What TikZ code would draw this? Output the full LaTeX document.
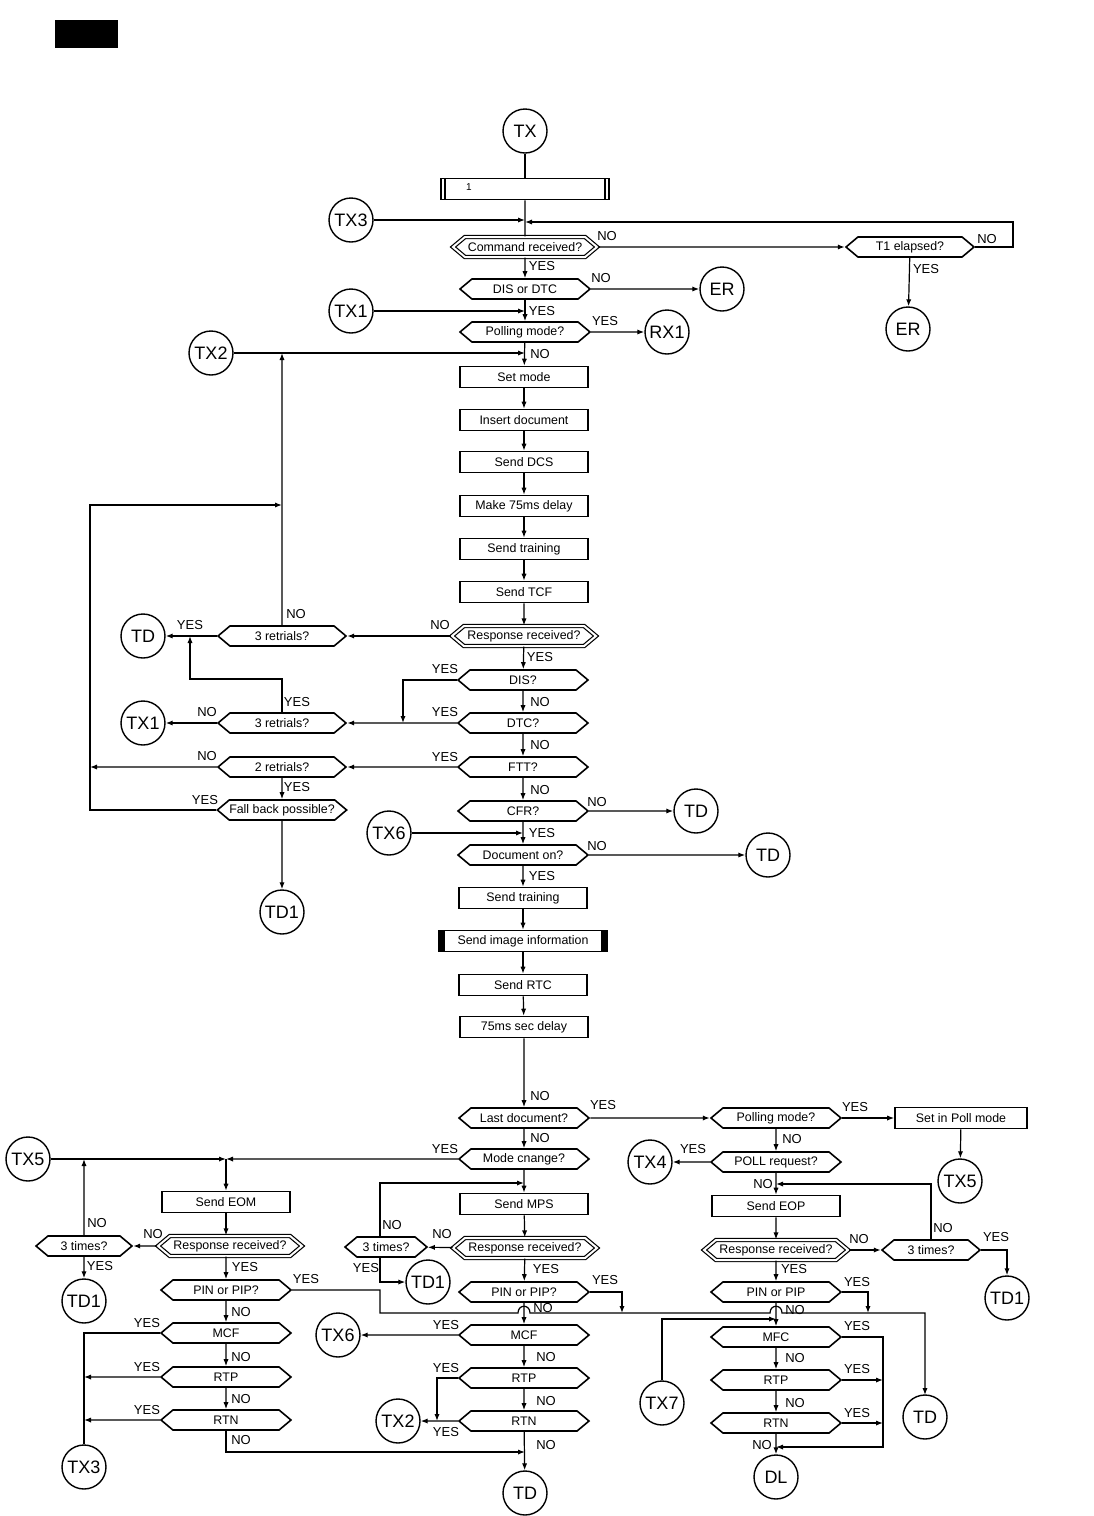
\documentclass[tikz,border=0pt]{standalone}
\usepackage{fontspec}
\setmainfont{Liberation Sans}
\usetikzlibrary{arrows.meta, shapes.symbols}

\begin{document}
\begin{tikzpicture}[
    x=0.5pt, y=-0.5pt,
    every node/.style={font=\fontsize{6.2}{6.2}\selectfont},
    arr/.style={-{Latex[length=3.5pt, width=2.6pt]}, line width=0.6pt},
    ln/.style={line width=0.6pt},
    lab/.style={font=\fontsize{6.5}{6.5}\selectfont, inner sep=0pt},
    conn/.style={circle, draw, line width=0.7pt, minimum size=22pt, inner sep=0pt,
        font=\fontsize{9}{9}\selectfont},
    proc/.style={rectangle, draw, line width=0.8pt, minimum width=64pt,
        minimum height=10.5pt, inner sep=0pt},
    dec/.style={signal, signal to=west and east, signal pointer angle=80, draw,
        line width=0.8pt, minimum width=65pt, minimum height=10pt, inner sep=0pt},
    recv/.style={dec, minimum width=72pt, line width=0.6pt, double, double distance=1pt},
    predef/.style={proc, minimum width=84pt, path picture={
        \draw[line width=0.6pt] ([xshift=2pt]path picture bounding box.north west)
            -- ([xshift=2pt]path picture bounding box.south west);
        \draw[line width=0.6pt] ([xshift=-2pt]path picture bounding box.north east)
            -- ([xshift=-2pt]path picture bounding box.south east);}},
    imgbox/.style={proc, minimum width=84pt, path picture={
        \fill ([xshift=3pt]path picture bounding box.north west)
            rectangle (path picture bounding box.south west);
        \fill ([xshift=-3pt]path picture bounding box.north east)
            rectangle (path picture bounding box.south east);}},
]
\useasboundingbox (0,0) rectangle (1093,1516);
\fill (55,20) rectangle (118,48);

% ============================================================ start
\node[conn] (tx) at (525,131) {TX};
\node[predef] (init) at (525,189) {};
\node[lab, font=\fontsize{5}{5}\selectfont] (initone) at (469,187) {1};
\node[conn] (tx3a) at (351,220) {TX3};
\node[recv] (cmd) at (525,247) {Command received?};
\node[dec, minimum width=64pt] (t1) at (910,247) {T1 elapsed?};
\node[conn] (er1) at (908,329) {ER};
\node[dec] (dis) at (525,289) {DIS or DTC};
\node[conn] (er2) at (722,289) {ER};
\node[conn] (tx1a) at (351,311) {TX1};
\node[dec] (poll1) at (525,332) {Polling mode?};
\node[conn] (rx1) at (667,332) {RX1};
\node[conn] (tx2a) at (211,353) {TX2};

\draw[ln] (tx) -- (init);
\draw[ln] (init) -- (cmd);
\draw[arr] (tx3a) -- (tx3a -| cmd);
\draw[arr] (cmd) -- (t1);
\draw[arr] (t1.east) -- (1013,247) -- (1013,222) -- (cmd |- 0,222);
\draw[arr] (t1) -- (er1);
\draw[arr] (cmd) -- (dis);
\draw[arr] (dis) -- (er2);
\draw[arr] (tx1a) -- (tx1a -| dis);
\draw[arr] (dis) -- (poll1);
\draw[arr] (poll1) -- (rx1);
\draw[arr] (tx2a) -- (tx2a -| poll1);

\node[lab] (ncmd) at (607,236) {NO};
\node[lab] (nt1) at (987,239) {NO};
\node[lab] (yt1) at (926,269) {YES};
\node[lab] (ycmd) at (542,266) {YES};
\node[lab] (ndis) at (601,278) {NO};
\node[lab] (ydis) at (542,311) {YES};
\node[lab] (ypoll) at (605,321) {YES};
\node[lab] (npoll) at (540,354) {NO};

% ============================================================ training
\node[proc] (setm) at (524,377) {Set mode};
\node[proc] (ins) at (524,420) {Insert document};
\node[proc] (dcs) at (524,462) {Send DCS};
\node[proc] (dly1) at (524,506) {Make 75ms delay};
\node[proc] (trn1) at (524,549) {Send training};
\node[proc] (tcf) at (524,592) {Send TCF};
\node[recv] (resp1) at (524,636) {Response received?};
\node[dec, minimum width=64pt] (ret1) at (282,636) {3 retrials?};
\node[conn] (td1) at (143,636) {TD};
\node[dec] (disq) at (523,680) {DIS?};
\node[dec] (dtc) at (523,723) {DTC?};
\node[dec, minimum width=64pt] (ret2) at (282,723) {3 retrials?};
\node[conn] (tx1b) at (143,723) {TX1};
\node[dec] (ftt) at (523,767) {FTT?};
\node[dec, minimum width=64pt] (ret3) at (282,767) {2 retrials?};
\node[dec, minimum width=64pt] (fb) at (282,810) {Fall back possible?};
\node[conn] (td1b) at (282,912) {TD1};

\draw[arr] (poll1) -- (setm);
\foreach \a/\b in {setm/ins, ins/dcs, dcs/dly1, dly1/trn1, trn1/tcf, tcf/resp1}{
    \draw[arr] (\a) -- (\b);
}
\draw[arr] (resp1) -- (ret1);
\draw[arr] (ret1) -- (td1);
\draw[arr] (ret1) -- (ret1 |- tx2a);
\draw[arr] (resp1) -- (disq);
\draw[arr] (disq.west) -| (403,723);
\draw[arr] (disq) -- (dtc);
\draw[arr] (dtc) -- (ret2);
\draw[arr] (ret2) -- (tx1b);
\draw[arr] (ret2.north) -- (ret2.north |- 0,679) -| (190,636);
\draw[arr] (dtc) -- (ftt);
\draw[arr] (ftt) -- (ret3);
\draw[arr] (ret3) -- (90,767);
\draw[arr] (ret3) -- (fb);
\draw[arr] (fb.west) -- (90,810) -- (90,505) -- (ret1 |- 0,505);
\draw[arr] (fb) -- (td1b);

\node[lab] (nret1) at (296,614) {NO};
\node[lab] (yret1) at (190,625) {YES};
\node[lab] (nresp1) at (440,625) {NO};
\node[lab] (yresp1) at (540,657) {YES};
\node[lab] (ydisq) at (445,669) {YES};
\node[lab] (ndisq) at (540,702) {NO};
\node[lab] (yret2) at (297,702) {YES};
\node[lab] (nret2) at (207,712) {NO};
\node[lab] (ydtc) at (445,712) {YES};
\node[lab] (ndtc) at (540,745) {NO};
\node[lab] (nret3) at (207,756) {NO};
\node[lab] (yftt) at (445,757) {YES};
\node[lab] (yret3) at (297,787) {YES};
\node[lab] (nftt) at (540,790) {NO};
\node[lab] (yfb) at (205,800) {YES};

% ============================================================ image
\node[dec] (cfr) at (523,811) {CFR?};
\node[conn] (tdb) at (696,811) {TD};
\node[conn] (tx6a) at (389,833) {TX6};
\node[dec] (doc) at (523,855) {Document on?};
\node[conn] (tdc) at (768,855) {TD};
\node[proc] (trn2) at (523,898) {Send training};
\node[imgbox] (img) at (523,941) {Send image information};
\node[proc] (rtc) at (523,985) {Send RTC};
\node[proc] (dly2) at (524,1027) {75ms sec delay};

\draw[arr] (ftt) -- (cfr);
\draw[arr] (cfr) -- (tdb);
\draw[arr] (tx6a) -- (tx6a -| cfr);
\draw[arr] (cfr) -- (doc);
\draw[arr] (doc) -- (tdc);
\foreach \a/\b in {doc/trn2, trn2/img, img/rtc, rtc/dly2}{
    \draw[arr] (\a) -- (\b);
}

\node[lab] (ncfr) at (597,802) {NO};
\node[lab] (ycfr) at (542,833) {YES};
\node[lab] (ndoc) at (597,846) {NO};
\node[lab] (ydoc) at (542,876) {YES};

% ============================================================ end of page
\node[dec] (last) at (524,1118) {Last document?};
\node[dec] (mode) at (524,1159) {Mode cnange?};
\node[conn] (tx5a) at (28,1159) {TX5};
\node[proc] (mps) at (524,1204) {Send MPS};
\node[recv] (resp2) at (525,1248) {Response received?};
\node[dec, minimum width=41pt] (tm2) at (386,1247) {3 times?};
\node[conn] (td1d) at (428,1282) {TD1};
\node[dec] (pin2) at (524,1292) {PIN or PIP?};
\node[dec] (mcf2) at (524,1335) {MCF};
\node[conn] (tx6b) at (338,1335) {TX6};
\node[dec] (rtp2) at (524,1378) {RTP};
\node[dec] (rtn2) at (524,1421) {RTN};
\node[conn] (tx2b) at (398,1421) {TX2};
\node[conn] (tde) at (525,1493) {TD};

\draw[arr] (dly2) -- (last);
\draw[arr] (last) -- (mode);
\draw[arr] (mode) -- (mps);
\draw[arr] ([xshift=-3pt]tm2.north) |- (mps |- 0,1183);
\draw[arr] (mps) -- (resp2);
\draw[arr] (resp2) -- (tm2);
\draw[arr] ([xshift=-3pt]tm2.south) |- (td1d);
\draw[arr] (resp2) -- (pin2);
\draw[arr] (pin2.east) -| (622,1313);
\draw[arr] (pin2) -- (mcf2);
\draw[arr] (mcf2) -- (tx6b);
\draw[arr] (mcf2) -- (rtp2);
\draw[arr] (rtp2.west) -| (437,1421);
\draw[arr] (rtp2) -- (rtn2);
\draw[arr] (rtn2) -- (tx2b);
\draw[arr] (rtn2) -- (tde);

\node[lab] (nlast0) at (540,1096) {NO};
\node[lab] (ylast) at (603,1105) {YES};
\node[lab] (nlast) at (540,1138) {NO};
\node[lab] (ymode) at (445,1149) {YES};
\node[lab] (ntm2) at (392,1225) {NO};
\node[lab] (nresp2) at (442,1234) {NO};
\node[lab] (ytm2) at (366,1268) {YES};
\node[lab] (yresp2) at (546,1269) {YES};
\node[lab] (ypin2) at (605,1280) {YES};
\node[lab] (npin2) at (543,1308) {NO};
\node[lab] (ymcf2) at (446,1325) {YES};
\node[lab] (nmcf2) at (546,1357) {NO};
\node[lab] (yrtp2) at (446,1368) {YES};
\node[lab] (nrtp2) at (546,1401) {NO};
\node[lab] (yrtn2) at (446,1432) {YES};
\node[lab] (nrtn2) at (546,1445) {NO};

% ============================================================ left column
\node[proc] (eom) at (226,1202) {Send EOM};
\node[recv] (resp4) at (230,1246) {Response received?};
\node[dec, minimum width=48pt] (tm1) at (84,1246) {3 times?};
\node[conn] (td1c) at (84,1301) {TD1};
\node[dec] (pin1) at (226,1290) {PIN or PIP?};
\node[dec] (mcf1) at (226,1333) {MCF};
\node[dec] (rtp1) at (226,1377) {RTP};
\node[dec] (rtn1) at (226,1420) {RTN};
\node[conn] (tx3b) at (84,1467) {TX3};

\draw[arr] (mode) -- (mode -| eom);
\draw[arr] (tx5a) -- (tx5a -| eom);
\draw[arr] (eom |- mode) -- (eom);
\draw[arr] (eom) -- (eom |- resp4.north);
\draw[arr] (resp4) -- (tm1);
\draw[arr] (tm1) -- (tm1 |- tx5a);
\draw[arr] (tm1) -- (td1c);
\draw[arr] (eom |- resp4.south) -- (pin1);
\draw[arr] (pin1) -- (mcf1);
\draw[arr] (mcf1) -- (rtp1);
\draw[arr] (rtp1) -- (rtn1);
\draw[ln] (mcf1.west) -| (tx3b);
\draw[arr] (rtp1) -- (rtp1 -| tx3b);
\draw[arr] (rtn1) -- (rtn1 -| tx3b);
\draw[arr] (rtn1) |- (tde |- 0,1452);
\draw[arr] (pin1.east) -| (380,1313) -- (518,1313)
    .. controls (518,1304) and (530,1304) .. (530,1313) -- (770,1313)
    .. controls (770,1304) and (782,1304) .. (782,1313) -| (925,1395);

\node[lab] (ntm1) at (97,1223) {NO};
\node[lab] (nresp4) at (153,1234) {NO};
\node[lab] (ytm1) at (100,1266) {YES};
\node[lab] (yresp4) at (245,1267) {YES};
\node[lab] (ypin1) at (306,1279) {YES};
\node[lab] (npin1) at (241,1312) {NO};
\node[lab] (ymcf1) at (147,1323) {YES};
\node[lab] (nmcf1) at (241,1357) {NO};
\node[lab] (yrtp1) at (147,1367) {YES};
\node[lab] (nrtp1) at (241,1399) {NO};
\node[lab] (yrtn1) at (147,1410) {YES};
\node[lab] (nrtn1) at (241,1440) {NO};

% ============================================================ right column
\node[dec] (poll2) at (776,1118) {Polling mode?};
\node[proc, minimum width=66pt] (setp) at (961,1118) {Set in Poll mode};
\node[conn] (tx5b) at (960,1181) {TX5};
\node[dec] (pollr) at (776,1162) {POLL request?};
\node[conn] (tx4) at (650,1162) {TX4};
\node[proc] (eop) at (776,1206) {Send EOP};
\node[recv] (resp3) at (776,1250) {Response received?};
\node[dec, minimum width=49pt] (tm3) at (931,1250) {3 times?};
\node[conn] (td1e) at (1007,1298) {TD1};
\node[dec] (pin3) at (776,1292) {PIN or PIP};
\node[dec] (mfc) at (776,1337) {MFC};
\node[dec] (rtp3) at (776,1380) {RTP};
\node[dec] (rtn3) at (776,1423) {RTN};
\node[conn] (dl) at (776,1477) {DL};
\node[conn] (tx7) at (662,1403) {TX7};
\node[conn] (tdr) at (925,1417) {TD};

\draw[arr] (last) -- (poll2);
\draw[arr] (poll2) -- (setp);
\draw[arr] (setp) -- (tx5b);
\draw[arr] (poll2) -- (pollr);
\draw[arr] (pollr) -- (tx4);
\draw[arr] (pollr) -- (eop);
\draw[arr] (tm3.north) |- (eop |- 0,1184);
\draw[arr] (eop) -- (resp3);
\draw[arr] (resp3) -- (tm3);
\draw[arr] (tm3.east) -| (td1e);
\draw[arr] (resp3) -- (pin3);
\draw[arr] (pin3.east) -| (868,1313);
\draw[arr] (pin3) -- (mfc);
\draw[arr] (tx7) |- (mfc |- 0,1319);
\draw[arr] (mfc) -- (rtp3);
\draw[arr] (rtp3) -- (rtn3);
\draw[arr] (rtn3) -- (dl);
\draw[arr] (mfc.east) -- (883,1337) -- (883,1447) -- (dl |- 0,1447);
\draw[arr] (rtp3) -- (rtp3 -| 883,0);
\draw[arr] (rtn3) -- (rtn3 -| 883,0);

\node[lab] (ypoll2) at (855,1107) {YES};
\node[lab] (npoll2) at (792,1139) {NO};
\node[lab] (ypollr) at (693,1149) {YES};
\node[lab] (npollr) at (763,1184) {NO};
\node[lab] (ntm3) at (943,1228) {NO};
\node[lab] (nresp3) at (859,1239) {NO};
\node[lab] (ytm3) at (996,1237) {YES};
\node[lab] (yresp3) at (794,1269) {YES};
\node[lab] (ypin3) at (857,1282) {YES};
\node[lab] (npin3) at (795,1310) {NO};
\node[lab] (ymfc) at (857,1326) {YES};
\node[lab] (nmfc) at (795,1358) {NO};
\node[lab] (yrtp3) at (857,1369) {YES};
\node[lab] (nrtp3) at (795,1403) {NO};
\node[lab] (yrtn3) at (857,1413) {YES};
\node[lab] (nrtn3) at (762,1445) {NO};

\end{tikzpicture}
\end{document}
